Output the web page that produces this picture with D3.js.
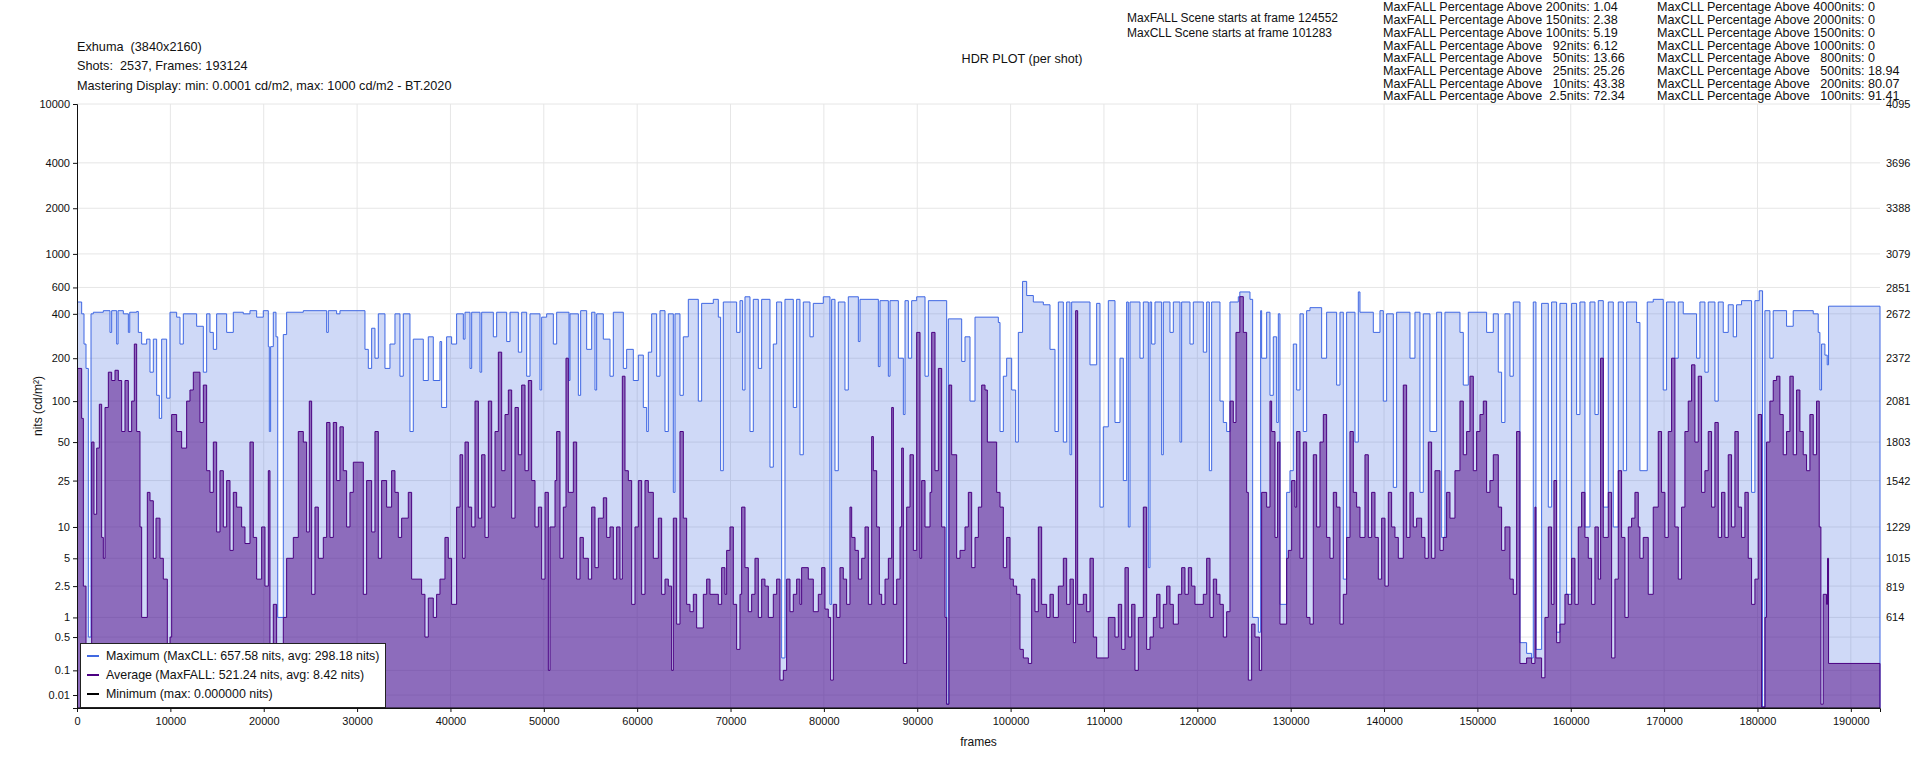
<!DOCTYPE html>
<html><head><meta charset="utf-8">
<script src="https://cdn.jsdelivr.net/npm/d3@7"></script>
<style>
body{margin:0;background:#fff}
svg text{font-family:"Liberation Sans",Arial,sans-serif;fill:#111;white-space:pre}
</style></head>
<body><svg id="chart" width="1920" height="768"></svg>
<script>
// ---------- data ----------
const totalFrames = 193124;
const xTickValues = [0,10000,20000,30000,40000,50000,60000,70000,80000,90000,100000,110000,120000,130000,140000,150000,160000,170000,180000,190000];
const nitTicks = [10000,4000,2000,1000,600,400,200,100,50,25,10,5,2.5,1,0.5,0.1,0.01];
const codeTicks = [4095,3696,3388,3079,2851,2672,2372,2081,1803,1542,1229,1015,819,614];

// per-shot MaxCLL (frame where shot starts, nits)
const maxSeries = [[0,480],[500,400],[750,250],[964,170],[1214,0.5],[1500,400],[1750,410],[2820,420],[3534,300],[3713,420],[4250,250],[4400,420],[4962,400],[5500,300],[5650,410],[6390,415],[6569,300],[6926,250],[7461,270],[7818,160],[8175,270],[8532,110],[8818,75],[9068,270],[9603,105],[9960,410],[10674,380],[11031,250],[11388,400],[12816,330],[13530,160],[13887,400],[14244,300],[14601,230],[14958,400],[16029,300],[16743,410],[17814,400],[18528,420],[19242,380],[19956,420],[20492,240],[20600,60],[20741,240],[21027,410],[21314,280],[21500,1],[22098,290],[22455,410],[24240,420],[26740,300],[26918,420],[27810,400],[28167,420],[30845,230],[31202,170],[31560,320],[31916,200],[32273,400],[32987,170],[33522,250],[34058,400],[34593,150],[34950,400],[35664,60],[36020,270],[37092,140],[37628,280],[38163,140],[38877,260],[39056,90],[39590,280],[40127,250],[40662,400],
[41025,400],[41382,270],[41560,410],[42096,170],[42275,410],[43167,160],[43346,410],[44595,280],[44952,410],[46023,260],[46380,410],[47273,220],[47630,410],[48165,150],[48522,400],[49593,120],[49772,380],[50307,400],[51021,250],[51378,410],[52700,140],[52806,400],[53699,110],[53948,420],[54591,230],[55127,410],[55484,120],[55662,400],[56376,270],[57090,150],[57447,410],[58518,170],[58875,230],[59589,140],[60125,210],[60660,90],[61017,60],[61196,220],[61553,400],[62088,150],[62445,420],[62981,60],[63338,400],[63873,20],[64052,400],[64587,110],[64944,280],[65480,500],[66550,100],[66908,470],[68157,500],[68693,380],[68942,30],[69228,480],[70656,300],[71013,490],[71299,120],[71549,520],[72084,60],[72441,500],[72977,170],[73334,500],[74226,32],[74583,250],[74940,480],[75476,0.2],[75833,500],[76725,90],[77082,500],[77439,40],[77796,480],[78510,280],[78867,470],[79938,520],[80652,1.5],[80831,500],[81188,30],[81545,480],[82259,120],[82616,520],
[83693,260],[83871,500],[85835,175],[86013,490],[86906,150],[87084,490],[87977,200],[88512,80],[88691,490],[89048,200],[89405,490],[89940,520],[90833,150],[91190,490],[93153,0.001],[93332,370],[94760,190],[95117,280],[95652,100],[96188,380],[98687,350],[98865,60],[99222,150],[99579,200],[100115,120],[100543,50],[100829,300],[101283,658],[101721,530],[102435,480],[103506,460],[104220,230],[104756,60],[105113,480],[105648,50],[106005,480],[106362,40],[106541,480],[108504,180],[109218,470],[109575,15],[109932,65],[110468,490],[111182,70],[111717,200],[112074,25],[112431,480],[112610,10],[112788,480],[113859,200],[114216,480],[114752,4],[114930,480],[115109,250],[115466,480],[116180,40],[116358,480],[117072,300],[117429,480],[118143,50],[118322,480],[119214,250],[119571,480],[120642,220],[121000,480],[121285,30],[121535,480],[122427,100],[122784,70],[123141,60],[123498,480],[124391,520],
[124552,560],[125641,500],[125927,1],[126534,0.6],[126783,420],[126890,200],[127426,410],[127783,110],[128140,280],[128497,70],[128676,400],[128854,1.5],[129568,20],[129925,30],[130282,250],[130639,120],[130996,400],[131353,60],[131710,420],[132067,440],[133317,200],[133852,410],[134923,130],[135280,410],[135637,3],[135994,410],[136887,50],[137244,560],[137422,410],[138850,300],[139564,420],[139921,100],[140278,400],[140992,22],[141349,410],[142777,200],[143313,410],[143848,20],[144205,400],[144919,60],[145633,410],[146169,8],[146526,410],[148132,300],[148489,130],[149025,410],[150988,300],[151702,400],[152238,160],[152595,70],[152952,400],[153487,150],[153844,480],[154558,0.4],[155272,0.25],[155808,0.2],[155986,480],[156272,0.3],[156879,470],[157593,15],[157950,480],[158485,0.6],[158842,470],[159556,2],[160092,470],[160627,80],[160984,480],[161520,10],[162055,480],[162591,80],[162948,490],[163483,15],[164019,480],[164554,10],[165090,480],[165625,30],[165982,480],[167053,350],
[167408,30],[168193,480],[168836,500],[169907,120],[170264,480],[171157,200],[171514,480],[172049,400],[173477,200],[173834,480],[174370,160],[174727,480],[175441,100],[175798,480],[176333,300],[176869,460],[177404,280],[177761,460],[178297,490],[179368,20],[179725,490],[180189,570],[180546,0.0001],[180796,420],[181331,200],[181688,420],[183116,330],[183830,420],[185972,400],[186508,300],[186686,120],[186865,250],[187222,210],[187471,180],[187614,450]];

// per-shot MaxFALL (frame where shot starts, nits)
const avgSeries = [[0,170],[500,75],[680,2.5],[964,0.3],[1571,50],[1820,13],[2106,45],[2392,95],[2642,8],[2820,5],[3000,90],[3356,160],[3713,140],[4070,165],[4427,140],[4784,60],[5141,140],[5498,60],[5855,100],[6140,250],[6390,60],[6747,10],[6926,1],[7533,20],[7818,17],[8175,5],[8461,12],[8889,5],[9246,3],[9675,0.01],[9960,0.5],[10139,80],[10674,60],[11210,45],[11745,100],[12100,120],[12460,160],[13173,70],[13530,130],[13887,30],[14244,20],[14601,50],[14958,9],[15315,30],[15672,10],[16029,25],[16386,6],[16743,20],[17100,15],[17636,10],[17993,7],[18528,50],[18885,8],[19242,3],[19778,10],[20135,2.5],[20492,30],[20670,0.3],[21027,1.5],[21384,0.05],[21741,0.3],[22098,1],[22455,5],[23170,8],[23705,60],[24240,50],[24597,9],[24883,100],[25133,2],[25490,15],[25847,5],[26382,8],[26740,70],[27096,8],[27453,70],[27810,25],[28167,65],[28524,30],[28881,10],[29238,20],[29595,35],[30666,2],[31023,25],[31560,9],[31916,60],[32273,5],[32630,25],[33165,15],[33700,30],[34058,20],[34415,8],[34772,12],[35486,20],[35843,3],[36914,2],[37270,0.5],[37628,1.8],[38163,1],[38520,2],[38877,3],[39413,8],[39770,5],[40127,1.5],[40662,15],
[41025,40],[41311,5],[41560,50],[41918,15],[42275,10],[42632,100],[42989,12],[43346,40],[43703,8],[44060,100],[44417,15],[44774,60],[45131,220],[45488,30],[45845,80],[46202,120],[46559,12],[46916,90],[47273,40],[47630,130],[47987,30],[48344,140],[48701,25],[49058,10],[49415,15],[49772,3],[50129,20],[50486,0.1],[50664,10],[51200,25],[51378,60],[51735,5],[52092,15],[52378,200],[52628,20],[53163,50],[53520,3],[53877,8],[54234,5],[54770,3],[55127,15],[55484,4],[55841,12],[56376,18],[56733,8],[57090,10],[57447,3],[57804,10],[58161,3],[58411,150],[58697,30],[59054,25],[59411,1.5],[59768,10],[60125,25],[60482,2],[60839,25],[61196,20],[61731,5],[62267,12],[62624,2],[62981,3],[63338,2.5],[63695,0.1],[63873,12],[64230,0.8],[64587,60],[64944,12],[65301,1.5],[65658,1.2],[66015,2],[66372,0.7],[67086,2],[67443,3],[67800,2],[68693,1.5],[69050,4],[69407,2],[69585,6],[69942,10],[70299,1.5],[70656,0.3],[71013,2],[71192,15],[71549,4],[71906,1.2],[72263,2],[72620,5],[72977,1],[73334,3],[73691,2.5],[74048,1],[74583,2],[74940,3],[75297,0.05],[75654,0.1],[76011,3],[76368,1.2],[76725,2],[77082,3],[77439,1.5],[77618,4],[78332,3],[78867,1.2],[79403,2],[79760,4],[80117,1.3],[80474,1],[80724,0.05],[81009,1.5],[81366,1],[81723,4],[82080,3],[82437,1.5],
[82794,15],[82979,8],[83336,6],[83693,3],[84050,5],[84407,10],[84764,1.5],[85121,55],[85299,30],[85656,10],[85942,2],[86192,1.5],[86549,3],[86906,5],[87263,90],[87441,1.5],[87798,3],[88155,10],[88334,45],[88512,0.15],[88869,15],[89226,40],[89583,6],[89940,300],[90297,5],[90476,25],[90833,10],[91368,20],[91547,300],[91904,30],[92261,170],[92618,10],[92975,1],[93153,0.001],[93403,130],[93689,40],[94224,5],[94581,6],[95117,10],[95474,20],[95831,4],[96188,8],[96545,15],[96902,130],[97259,120],[97508,50],[98508,20],[98865,15],[99222,4],[99579,8],[99936,3],[100293,2.5],[100650,2],[101007,0.3],[101364,0.2],[101900,0.15],[102257,3],[102614,1.2],[102971,10],[103328,1.5],[103863,1],[104220,2],[104577,1],[105113,2.5],[105648,5],[106005,1.5],[106362,3],[106719,0.4],[106969,420],[107183,1.5],[107790,2],[108147,1.2],[108504,5],[108861,0.5],[109218,0.2],[110468,1],[111182,0.5],[111539,1.5],[111896,0.3],[112253,4],[112610,0.5],[112967,1.5],[113324,0.1],[113681,1],[114216,15],[114573,0.3],[114930,0.5],[115287,1],[115644,2],[116001,0.7],[116358,1.5],[116715,2.5],[117072,1.5],[117429,0.8],[117965,2],[118322,4],[118679,2],[119036,4],[119393,2.5],[119750,1.5],[120642,2],[120999,5],[121356,1],[121713,3],[122070,2],[122427,1.5],[122784,0.5],[123141,1.2],[123498,100],[123855,70],[124141,300],[124552,521],
[124927,300],[125284,20],[125463,0.05],[125820,0.8],[126177,0.5],[126640,0.1],[126891,20],[127426,15],[127783,100],[127962,60],[128319,8],[128600,50],[128854,0.8],[129568,5],[129747,6],[130104,25],[130461,15],[130639,60],[130996,5],[131353,50],[131710,1],[132067,0.8],[132424,40],[132781,10],[133138,50],[133495,80],[133852,8],[134209,5],[134566,20],[134923,15],[135280,0.8],[135637,2],[135994,8],[136351,60],[136708,20],[137065,15],[137422,8],[137958,40],[138315,8],[138672,20],[139029,8],[139386,3],[139743,12],[140100,2.5],[140457,20],[140814,10],[141171,8],[141528,5],[142063,130],[142420,8],[142777,20],[143134,10],[143491,12],[144027,8],[144384,5],[144741,50],[145098,5],[145455,30],[145990,6],[146347,8],[146704,20],[147061,12],[147597,30],[148132,100],[148489,40],[148846,60],[149203,150],[149560,30],[149917,60],[150274,80],[150631,100],[150988,20],[151345,25],[151702,40],[152238,15],[152595,6],[152952,10],[153487,3],[153844,2],[154201,60],[154558,0.15],[155272,0.2],[155808,0.15],[156165,15],[156272,0.2],[156879,0.06],[157236,1],[157593,10],[157950,1.5],[158200,25],[158485,0.4],[158842,0.8],[159378,2],[159735,1.5],[160092,5],[160449,1.5],[160806,10],[161163,20],[161520,8],[161877,5],[162234,1.5],[162591,10],[162948,3],[163200,200],[163483,8],[164019,20],[164376,0.2],[164733,3],[165090,30],[165447,8],[165804,1],[166161,10],[166518,12],[166875,20],[167232,10],
[167408,5],[167765,8],[168300,2],[168836,15],[169372,60],[169729,20],[170086,8],[170443,60],[170800,200],[171157,10],[171514,3],[171871,15],[172228,60],[172585,100],[172942,180],[173299,50],[173656,150],[174013,20],[174370,30],[174727,60],[175084,15],[175441,70],[175798,8],[176155,20],[176512,8],[176869,40],[177226,10],[177583,60],[177940,15],[178297,8],[178654,20],[179011,5],[179368,1.5],[179725,3],[180082,80],[180439,0.0001],[180800,1],[180974,50],[181331,100],[181688,140],[182045,150],[182402,80],[182759,40],[183116,60],[183473,150],[183830,40],[184187,120],[184544,60],[184901,40],[185258,30],[185615,80],[185972,40],[186329,100],[186615,10],[186793,0.001],[187043,2],[187400,1.5],[187507,5],[187614,0.15]];

// per-shot minimum (all zero)
const minSeries = [[0,0],[187614,0]];

const titleLines = ["Exhuma  (3840x2160)","Shots:  2537, Frames: 193124","Mastering Display: min: 0.0001 cd/m2, max: 1000 cd/m2 - BT.2020"];
const plotTitle = "HDR PLOT (per shot)";
const sceneLines = ["MaxFALL Scene starts at frame 124552","MaxCLL Scene starts at frame 101283"];
const fallStats = ["MaxFALL Percentage Above 200nits: 1.04","MaxFALL Percentage Above 150nits: 2.38","MaxFALL Percentage Above 100nits: 5.19","MaxFALL Percentage Above   92nits: 6.12","MaxFALL Percentage Above   50nits: 13.66","MaxFALL Percentage Above   25nits: 25.26","MaxFALL Percentage Above   10nits: 43.38","MaxFALL Percentage Above  2.5nits: 72.34"];
const cllStats = ["MaxCLL Percentage Above 4000nits: 0","MaxCLL Percentage Above 2000nits: 0","MaxCLL Percentage Above 1500nits: 0","MaxCLL Percentage Above 1000nits: 0","MaxCLL Percentage Above   800nits: 0","MaxCLL Percentage Above   500nits: 18.94","MaxCLL Percentage Above   200nits: 80.07","MaxCLL Percentage Above   100nits: 91.41"];
const legendItems = [
  {label:"Maximum (MaxCLL: 657.58 nits, avg: 298.18 nits)", color:"#4169e1"},
  {label:"Average (MaxFALL: 521.24 nits, avg: 8.42 nits)", color:"#4b0082"},
  {label:"Minimum (max: 0.000000 nits)", color:"#000000"}];

// ---------- layout ----------
const M = {left:77, right:1880, top:104, bottom:708};
const svg = d3.select("#chart");

const x = d3.scaleLinear().domain([0,totalFrames]).range([M.left,M.right]);
const codeScale = d3.scaleLinear().domain([0,4095]).range([M.bottom,M.top]);
function pq(L){
  const m1=0.1593017578125,m2=78.84375,c1=0.8359375,c2=18.8515625,c3=18.6875;
  const p=Math.pow(Math.max(L,0)/10000,m1);
  return Math.pow((c1+c2*p)/(1+c3*p),m2);
}
const y = L => codeScale(pq(L)*4095);

// grid
const grid = svg.append("g");
grid.selectAll("line.v").data(xTickValues.filter(d=>d>0)).join("line")
  .attr("x1",d=>x(d)).attr("x2",d=>x(d)).attr("y1",M.top).attr("y2",M.bottom)
  .attr("stroke","#e6e6e6").attr("stroke-width",1);
grid.selectAll("line.h").data(nitTicks).join("line")
  .attr("x1",M.left).attr("x2",M.right).attr("y1",d=>y(d)).attr("y2",d=>y(d))
  .attr("stroke","#e6e6e6").attr("stroke-width",1);

function withEnd(s){ const last=s[s.length-1]; return s.concat([[totalFrames,last[1]]]); }
function withDrop(s){ return withEnd(s).concat([[totalFrames,0]]); }

const area = d3.area().x(d=>x(d[0])).y0(M.bottom).y1(d=>y(d[1])).curve(d3.curveStepAfter);
const line = d3.line().x(d=>x(d[0])).y(d=>y(d[1])).curve(d3.curveStepAfter);

svg.append("path").datum(withEnd(maxSeries)).attr("d",area)
  .attr("fill","#4169e1").attr("fill-opacity",0.25);
svg.append("path").datum(withDrop(maxSeries)).attr("d",line)
  .attr("fill","none").attr("stroke","#3f67e3").attr("stroke-width",1);
svg.append("path").datum(withEnd(avgSeries)).attr("d",area)
  .attr("fill","#4b0082").attr("fill-opacity",0.5);
svg.append("path").datum(withDrop(avgSeries)).attr("d",line)
  .attr("fill","none").attr("stroke","#4b0082").attr("stroke-width",1);
svg.append("path").datum(withEnd(minSeries)).attr("d",line)
  .attr("fill","none").attr("stroke","#000").attr("stroke-width",1);

// axes
const xAxis = svg.append("g").attr("transform",`translate(0,${M.bottom})`)
  .call(d3.axisBottom(x).tickValues(xTickValues).tickFormat(d3.format("d")).tickSize(4).tickPadding(5));
const yAxis = svg.append("g").attr("transform",`translate(${M.left},0)`)
  .call(d3.axisLeft(codeScale).tickValues(nitTicks.map(d=>pq(d)*4095)).tickFormat((d,i)=>nitTicks[i]).tickSize(4).tickPadding(3));
const yAxisR = svg.append("g").attr("transform",`translate(${M.right},0)`)
  .call(d3.axisRight(codeScale).tickValues(codeTicks).tickFormat(d3.format("d")).tickSize(0).tickPadding(6));
yAxisR.select(".domain").remove();
[xAxis,yAxis,yAxisR].forEach(g=>{
  g.selectAll("text").attr("font-size",11).attr("font-family","Liberation Sans, Arial, sans-serif").attr("fill","#111");
  g.selectAll("line").attr("stroke","#111");
  g.select(".domain").attr("stroke","#111");
});

// axis titles
svg.append("text").attr("x",(M.left+M.right)/2).attr("y",746).attr("text-anchor","middle")
  .attr("font-size",12).text("frames");
svg.append("text").attr("transform",`translate(42,${(M.top+M.bottom)/2}) rotate(-90)`)
  .attr("text-anchor","middle").attr("font-size",12).text("nits (cd/m²)");

// titles
svg.selectAll("text.title").data(titleLines).join("text").attr("class","title")
  .attr("x",77).attr("y",(d,i)=>46.7+i*19.2).attr("dy","0.35em").attr("font-size",12.7).text(d=>d);
svg.append("text").attr("x",1022).attr("y",59).attr("dy","0.35em").attr("text-anchor","middle")
  .attr("font-size",12.6).text(plotTitle);
svg.selectAll("text.scene").data(sceneLines).join("text").attr("class","scene")
  .attr("x",1127).attr("y",(d,i)=>18+i*15).attr("dy","0.35em").attr("font-size",12).text(d=>d);
svg.selectAll("text.fall").data(fallStats).join("text").attr("class","fall")
  .attr("x",1383).attr("y",(d,i)=>7+i*12.7).attr("dy","0.35em").attr("font-size",12.6).text(d=>d);
svg.selectAll("text.cll").data(cllStats).join("text").attr("class","cll")
  .attr("x",1657).attr("y",(d,i)=>7+i*12.7).attr("dy","0.35em").attr("font-size",12.6).text(d=>d);

// legend
const lg = svg.append("g");
lg.append("rect").attr("x",80.5).attr("y",643.5).attr("width",305).attr("height",64)
  .attr("fill","#fff").attr("stroke","#222").attr("stroke-width",1);
const li = lg.selectAll("g.item").data(legendItems).join("g").attr("class","item")
  .attr("transform",(d,i)=>`translate(0,${656+i*19})`);
li.append("line").attr("x1",87).attr("x2",99).attr("y1",0).attr("y2",0)
  .attr("stroke",d=>d.color).attr("stroke-width",2);
li.append("text").attr("x",106).attr("y",0).attr("dy","0.35em").attr("font-size",12.4).text(d=>d.label);
</script></body></html>
